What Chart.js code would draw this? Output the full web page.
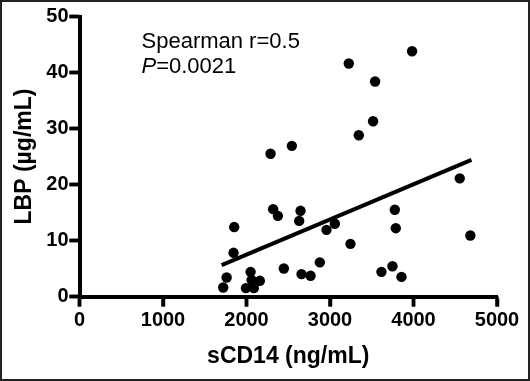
<!DOCTYPE html>
<html>
<head>
<meta charset="utf-8">
<script src="https://cdn.jsdelivr.net/npm/chart.js@4.4.0/dist/chart.umd.min.js"></script>
<style>
  html, body { margin: 0; padding: 0; background: #fff; }
  #wrap { position: relative; width: 530px; height: 381px; }
</style>
</head>
<body>
<div id="wrap"><canvas id="chart"></canvas></div>
<script>
// sCD14 (ng/mL) vs LBP (ug/mL)
const sCD14 = [3983, 3225, 3540, 3516, 3345, 2543, 2288, 4554, 2319, 2376,
               2647, 2631, 1853, 3776, 3788, 3058, 2958, 3245, 4681, 1845,
               2447, 2878, 2659, 2767, 3616, 3748, 3856, 1762, 1721, 2049,
               2160, 1993, 2088, 2061];
const LBP = [43.8, 41.6, 38.4, 31.3, 28.8, 26.9, 25.5, 21.1, 15.6, 14.4,
             15.3, 13.5, 12.4, 15.5, 12.2, 13.0, 11.9, 9.4, 10.9, 7.8,
             5.0, 6.1, 4.0, 3.7, 4.4, 5.4, 3.5, 3.4, 1.6, 4.4,
             2.8, 1.5, 1.5, 2.95];

// fitted line end points
const fitX = [1702, 4694];
const fitY = [5.6, 24.4];

const xTicks = [0, 1000, 2000, 3000, 4000, 5000];
const yTicks = [0, 10, 20, 30, 40, 50];

const FONT = "'Liberation Sans', Arial, Helvetica, sans-serif";
const TICK_LEN = 10;

// tick marks, stats text and outer frame
const extras = {
  id: 'extras',
  afterDraw(chart) {
    const ctx = chart.ctx;
    const xs = chart.scales.x, ys = chart.scales.y;
    const area = chart.chartArea;
    ctx.save();
    ctx.fillStyle = '#000';
    xTicks.forEach(v => {
      const px = xs.getPixelForValue(v);
      ctx.fillRect(px - 1.75, area.bottom, 3.5, TICK_LEN);
    });
    yTicks.forEach(v => {
      const py = ys.getPixelForValue(v);
      ctx.fillRect(area.left - TICK_LEN, py - 1.75, TICK_LEN, 3.5);
    });

    ctx.textBaseline = 'alphabetic';
    ctx.textAlign = 'left';
    ctx.font = '22px ' + FONT;
    ctx.fillText('Spearman r=0.5', 141.5, 48);
    ctx.font = 'italic 22px ' + FONT;
    ctx.fillText('P', 141.5, 73);
    const w = ctx.measureText('P').width;
    ctx.font = '22px ' + FONT;
    ctx.fillText('=0.0021', 141.5 + w, 73);

    ctx.strokeStyle = '#222';
    ctx.lineWidth = 2;
    ctx.strokeRect(1, 1, chart.width - 2, chart.height - 2);
    ctx.restore();
  }
};

const tickFont = { family: FONT, size: 20, weight: 'bold' };
const titleFont = { family: FONT, size: 23, weight: 'bold' };

new Chart(document.getElementById('chart'), {
  type: 'scatter',
  data: {
    datasets: [
      {
        data: sCD14.map((x, i) => ({ x: x, y: LBP[i] })),
        backgroundColor: '#000',
        borderWidth: 0,
        pointRadius: 5.2,
        clip: false
      },
      {
        type: 'line',
        data: fitX.map((x, i) => ({ x: x, y: fitY[i] })),
        borderColor: '#000',
        borderWidth: 4,
        pointRadius: 0,
        fill: false
      }
    ]
  },
  options: {
    responsive: true,
    maintainAspectRatio: false,
    animation: false,
    layout: { padding: { top: 16.5, right: 33, left: 0, bottom: 0 } },
    plugins: { legend: { display: false }, tooltip: { enabled: false } },
    scales: {
      x: {
        type: 'linear',
        min: 0, max: 5000,
        afterBuildTicks: s => { s.ticks = xTicks.map(v => ({ value: v })); },
        afterFit: s => { s.height = 84.5; },
        border: { display: true, width: 4, color: '#000' },
        grid: { drawOnChartArea: false, drawTicks: true, tickLength: TICK_LEN, tickWidth: 3.5, tickColor: '#000' },
        ticks: { color: '#000', font: tickFont, padding: 2, maxRotation: 0, callback: v => String(v) },
        title: { display: true, text: 'sCD14 (ng/mL)', color: '#000', font: titleFont, padding: { top: 0, bottom: 11 } }
      },
      y: {
        min: 0, max: 50,
        afterBuildTicks: s => { s.ticks = yTicks.map(v => ({ value: v })); },
        afterFit: s => { s.width = 79.5; },
        border: { display: true, width: 4, color: '#000' },
        grid: { drawOnChartArea: false, drawTicks: true, tickLength: TICK_LEN, tickWidth: 3.5, tickColor: '#000' },
        ticks: { color: '#000', font: tickFont, padding: 1, callback: v => String(v) },
        title: { display: true, text: 'LBP (µg/mL)', color: '#000', font: titleFont, padding: { top: 11, bottom: 0 } }
      }
    }
  },
  plugins: [extras]
});
</script>
</body>
</html>
